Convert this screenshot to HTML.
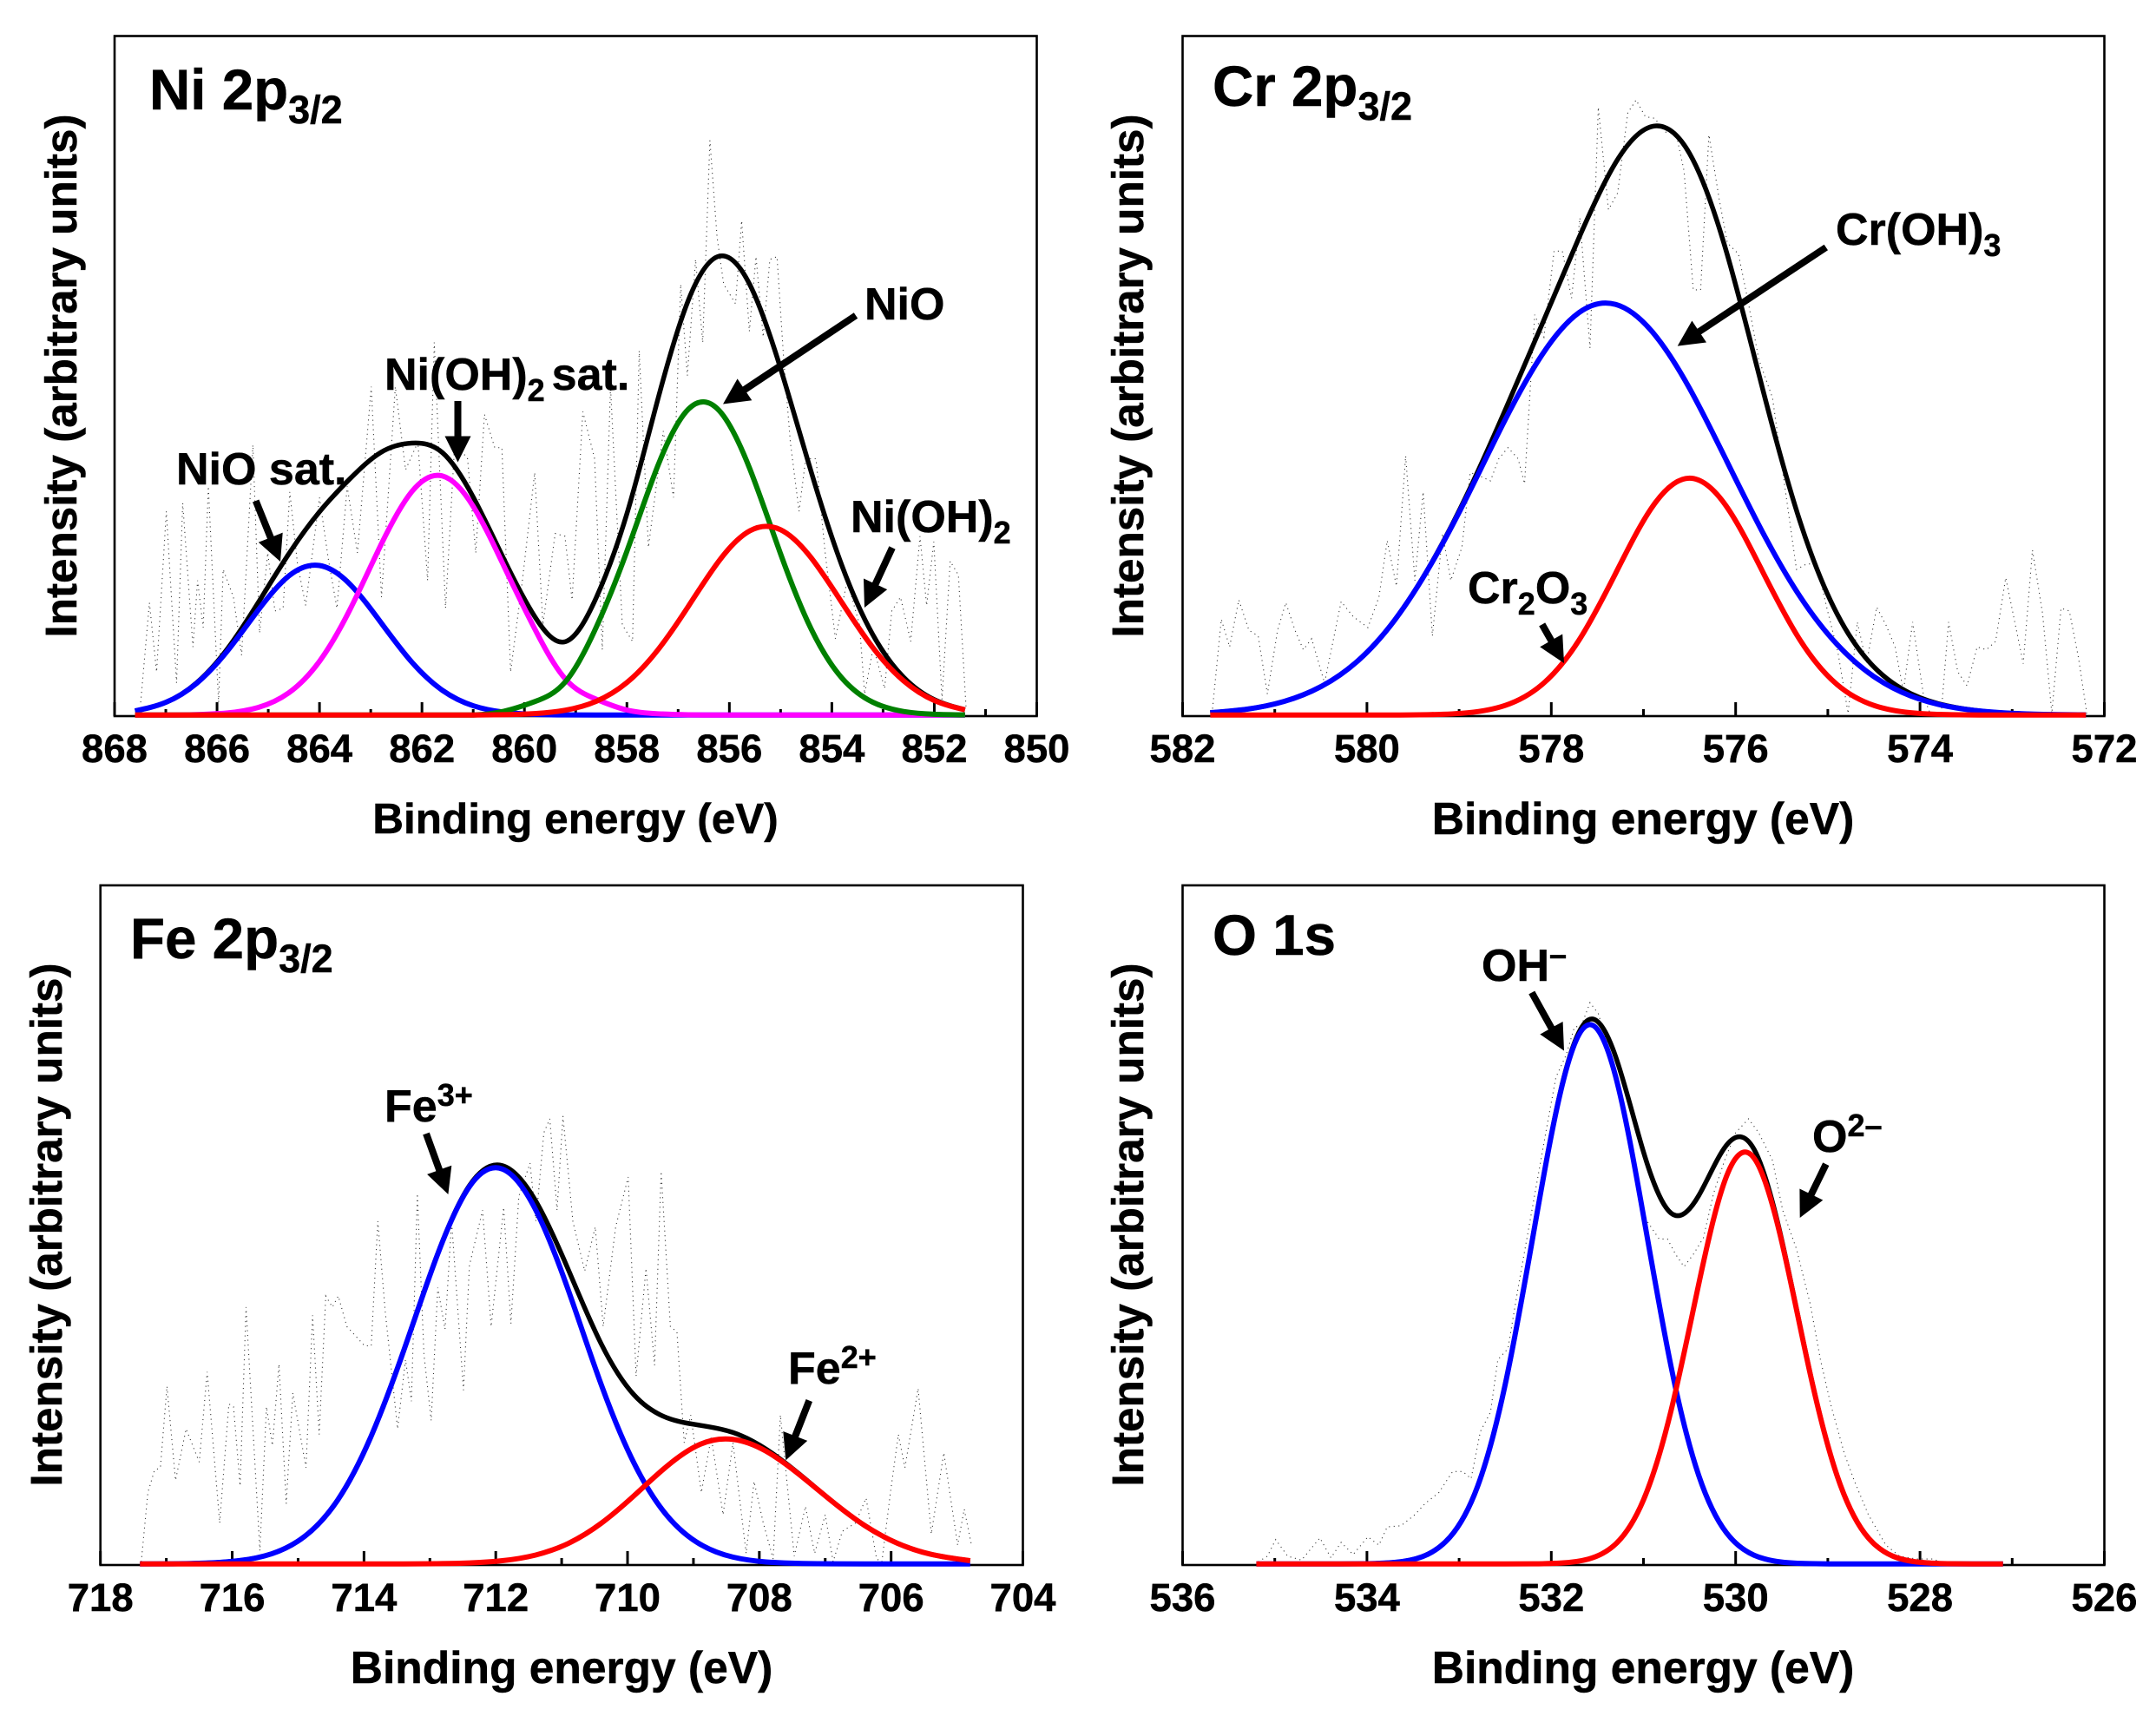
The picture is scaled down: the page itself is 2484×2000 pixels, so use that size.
<!DOCTYPE html>
<html lang="en">
<head>
<meta charset="utf-8">
<title>XPS spectra: Ni 2p3/2, Cr 2p3/2, Fe 2p3/2, O 1s</title>
<style>
  html, body { margin: 0; padding: 0; background: #fff; }
  svg { display: block; }
  text { font-family: "Liberation Sans", Arial, sans-serif; font-weight: 700; fill: #000; stroke: #000; stroke-width: 0.5px; }
  .tick-label { font-size: 45.5px; text-anchor: middle; }
  .x-title { font-size: 51.5px; text-anchor: middle; }
  .x-title-narrow { font-size: 49.5px; text-anchor: middle; }
  .y-title { font-size: 51.2px; text-anchor: middle; }
  .panel-title { font-size: 65.5px; }
  .note { font-size: 52px; }
</style>
</head>
<body>
<svg id="chart" xmlns="http://www.w3.org/2000/svg" width="2484" height="2000" viewBox="0 0 2484 2000">
  <rect x="0" y="0" width="2484" height="2000" fill="#fff" stroke="none"/>
  <g id="marks"></g>

  <text class="panel-title" x="172" y="126">Ni 2p<tspan dy="16" font-size="45">3/2</tspan></text>
  <text class="panel-title" x="1397" y="122">Cr 2p<tspan dy="16" font-size="45">3/2</tspan></text>
  <text class="panel-title" x="150" y="1104">Fe 2p<tspan dy="16" font-size="45">3/2</tspan></text>
  <text class="panel-title" x="1397" y="1100">O 1s</text>

  <text class="note" x="203" y="558">NiO sat.</text>
  <text class="note" x="443" y="449">Ni(OH)<tspan dy="13" font-size="36">2</tspan><tspan dy="-13" dx="8">sat.</tspan></text>
  <text class="note" x="996" y="368">NiO</text>
  <text class="note" x="980" y="613">Ni(OH)<tspan dy="13" font-size="36">2</tspan></text>
  <text class="note" x="2115" y="282">Cr(OH)<tspan dy="13" font-size="36">3</tspan></text>
  <text class="note" x="1691" y="695">Cr<tspan dy="13" font-size="36">2</tspan><tspan dy="-13">O</tspan><tspan dy="13" font-size="36">3</tspan></text>
  <text class="note" x="443" y="1292">Fe<tspan dy="-18" font-size="36">3+</tspan></text>
  <text class="note" x="908" y="1594">Fe<tspan dy="-18" font-size="36">2+</tspan></text>
  <text class="note" x="1707" y="1130">OH<tspan dy="-18" font-size="36">–</tspan></text>
  <text class="note" x="2088" y="1327">O<tspan dy="-18" font-size="36">2–</tspan></text>

  <text class="x-title-narrow" x="663" y="960">Binding energy (eV)</text>
  <text class="x-title" x="1893" y="961">Binding energy (eV)</text>
  <text class="x-title" x="647" y="1939">Binding energy (eV)</text>
  <text class="x-title" x="1893" y="1939">Binding energy (eV)</text>

  <text class="y-title" transform="translate(88 433) rotate(-90)">Intensity (arbitrary units)</text>
  <text class="y-title" transform="translate(1317 433) rotate(-90)">Intensity (arbitrary units)</text>
  <text class="y-title" transform="translate(71 1411) rotate(-90)">Intensity (arbitrary units)</text>
  <text class="y-title" transform="translate(1317 1411) rotate(-90)">Intensity (arbitrary units)</text>
</svg>

<script>
/* ---------- Ni 2p3/2 ---------- */
const niTicks = [868, 866, 864, 862, 860, 858, 856, 854, 852, 850];
const niEnergy = [867.6,867.0,866.4,865.8,865.2,864.6,864.0,863.4,862.8,862.2,861.6,861.0,860.4,859.8,859.2,858.6,858.0,857.4,856.8,856.2,855.6,855.0,854.4,853.8,853.2,852.6,852.0,851.4];
const niEnvelope = [0.61,1.87,4.73,9.72,16.5,23.7,29.9,34.8,38.65,40.0,38.6,32.07,22.93,14.5,10.8,17.25,29.62,46.33,61.04,67.5,63.3,50.96,35.7,21.92,11.82,5.57,2.27,0.79];
const niNioSat = [0.61,1.87,4.66,9.41,15.4,20.46,22.0,19.2,13.6,7.8,3.63,1.37,0.42,0.1,0.02,0,0,0,0,0,0,0,0,0,0,0,0,0];
const niHydroxideSat = [0,0,0.07,0.31,1.11,3.27,7.91,15.6,25.05,32.85,35.17,30.7,21.9,12.7,5.3,2.33,0.74,0.19,0.04,0,0,0,0,0,0,0,0,0];
const niNio = [0,0,0,0,0,0,0,0,0,0,0,0,0.56,1.97,4.9,12.9,24.1,36.6,45.0,44.8,36.2,23.7,12.6,5.42,1.89,0.53,0.12,0.02];
const niHydroxide = [0,0,0,0,0,0,0,0,0,0,0,0,0.05,0.21,0.72,2.02,4.78,9.54,16.0,22.7,27.1,27.26,23.1,16.5,9.93,5.04,2.15,0.77];
const niRawEnergy = [867.49,867.32,867.18,866.99,866.79,866.67,866.47,866.38,866.27,866.17,865.97,865.88,865.68,865.52,865.30,865.17,865.01,864.87,864.71,864.58,864.43,864.27,864.0,863.83,863.66,863.46,863.26,862.99,862.79,862.52,862.32,862.08,861.89,861.76,861.54,861.36,861.11,860.95,860.78,860.58,860.44,860.27,860.04,859.8,859.64,859.4,859.21,859.07,858.86,858.63,858.48,858.32,858.09,857.89,857.76,857.58,857.29,857.09,856.95,856.82,856.66,856.52,856.38,856.24,856.11,855.88,855.76,855.61,855.48,855.34,855.21,855.07,854.94,854.81,854.64,854.51,854.31,854.13,853.93,853.7,853.46,853.36,853.19,852.97,852.83,852.66,852.46,852.28,852.15,852.01,851.85,851.69,851.53,851.38];
const niRawCounts = [23,203,78,368,58,383,123,243,158,413,23,263,213,108,488,148,293,188,193,403,273,198,393,283,193,413,293,593,213,593,443,493,243,673,193,493,463,293,543,483,483,78,243,438,163,328,323,208,548,463,118,593,163,133,658,303,513,393,778,613,823,673,1038,863,778,743,893,693,828,683,823,828,643,493,368,463,463,293,138,243,163,38,123,48,188,213,133,323,198,313,28,278,253,13];

/* ---------- Cr 2p3/2 ---------- */
const crTicks = [582, 580, 578, 576, 574, 572];
const crEnergy = [581.7,581.3,580.9,580.5,580.1,579.7,579.3,578.9,578.5,578.1,577.7,577.3,576.9,576.5,576.1,575.7,575.3,574.9,574.5,574.1,573.7,573.3,572.9,572.5,572.2];
const crEnvelope = [0.35,0.87,2.0,4.18,7.96,13.96,22.37,32.85,44.87,57.49,70.2,81.3,86.6,82.6,68.15,47.6,28.4,14.89,7.08,3.16,1.35,0.54,0.2,0.07,0.03];
const crHydroxide = [0.35,0.87,2.0,4.18,7.96,13.95,22.3,32.5,43.45,53.0,59.2,60.4,56.3,48.05,37.45,26.7,17.4,10.4,5.66,2.81,1.28,0.53,0.2,0.07,0.03];
const crOxide = [0,0,0,0,0,0.01,0.07,0.35,1.42,4.49,11.0,20.9,30.7,34.85,30.7,20.9,11.0,4.49,1.42,0.35,0.07,0.01,0,0,0];
const crRawEnergy = [581.68,581.58,581.49,581.39,581.28,581.18,581.08,580.97,580.88,580.78,580.69,580.60,580.46,580.28,580.15,579.99,579.87,579.78,579.68,579.58,579.48,579.39,579.29,579.18,579.09,578.97,578.88,578.79,578.66,578.57,578.47,578.36,578.29,578.18,578.08,577.97,577.88,577.78,577.69,577.58,577.49,577.38,577.28,577.17,577.08,576.98,576.88,576.76,576.65,576.56,576.46,576.38,576.29,576.18,576.09,575.97,575.86,575.75,575.60,575.45,575.34,575.23,575.12,575.01,574.89,574.78,574.68,574.58,574.47,574.37,574.27,574.18,574.08,573.96,573.89,573.77,573.69,573.59,573.49,573.38,573.28,573.18,573.07,572.88,572.78,572.67,572.57,572.47,572.38,572.28,572.19];
const crRawCounts = [3,173,123,208,153,143,38,153,203,153,118,138,58,205,178,158,213,315,233,468,243,403,143,328,243,303,438,433,423,463,483,463,418,723,683,838,838,753,898,663,1098,913,943,1088,1111,1081,1078,1053,1053,983,768,768,1048,933,853,833,743,643,573,393,263,273,273,193,113,3,168,93,195,163,123,43,168,33,3,3,168,78,53,123,118,133,248,93,298,183,3,193,188,103,3];

/* ---------- Fe 2p3/2 ---------- */
const feTicks = [718, 716, 714, 712, 710, 708, 706, 704];
const feEnergy = [717.4,716.9,716.4,715.9,715.4,714.9,714.4,713.9,713.4,712.9,712.4,711.9,711.4,710.9,710.4,709.9,709.4,708.9,708.4,707.9,707.4,706.9,706.4,705.9,705.4,704.8];
const feEnvelope = [0.01,0.03,0.13,0.48,1.5,4.06,9.39,18.6,31.3,45.14,55.65,58.6,53.5,43.32,32.38,24.85,21.5,20.4,19.34,16.9,13.28,9.26,5.65,3.03,1.43,0.48];
const feFe3 = [0,0.03,0.13,0.48,1.5,4.06,9.39,18.6,31.3,45.1,55.5,58.1,52.2,40.3,26.4,14.8,7.1,2.91,1.01,0.3,0.08,0.02,0,0,0,0];
const feFe2 = [0,0,0,0,0,0,0,0,0.01,0.04,0.15,0.48,1.3,3.02,5.98,10.05,14.4,17.6,18.33,16.6,13.2,9.24,5.65,3.03,1.43,0.48];
const feRawEnergy = [717.38,717.28,717.18,717.09,716.99,716.86,716.70,716.50,716.38,716.19,716.05,715.98,715.88,715.79,715.58,715.48,715.39,715.29,715.18,715.08,714.88,714.78,714.68,714.58,714.48,714.39,714.26,713.99,713.89,713.79,713.68,713.49,713.37,713.28,713.19,713.09,712.98,712.88,712.77,712.67,712.49,712.40,712.20,712.07,711.88,711.77,711.65,711.48,711.39,711.27,711.18,711.07,710.98,710.83,710.65,710.49,710.37,710.18,709.99,709.87,709.72,709.59,709.49,709.35,709.25,709.14,709.04,708.88,708.73,708.55,708.40,708.20,708.08,707.94,707.79,707.68,707.47,707.30,707.16,707.00,706.88,706.74,706.54,706.38,706.22,706.14,706.01,705.89,705.79,705.59,705.39,705.20,704.99,704.89,704.78];
const feRawCounts = [4,129,169,174,321,151,244,184,347,74,289,284,141,464,24,284,214,361,109,309,174,449,234,484,464,484,429,394,394,619,459,244,369,294,669,379,259,499,424,619,314,539,639,429,644,434,664,724,619,779,804,639,809,619,529,609,429,609,699,339,534,359,709,429,419,219,269,129,229,89,219,19,149,74,9,269,14,104,19,89,4,59,74,119,9,4,129,234,174,317,54,201,34,99,34];

/* ---------- O 1s ---------- */
const oTicks = [536, 534, 532, 530, 528, 526];
const oEnergy = [535.2,534.9,534.6,534.3,534.0,533.7,533.4,533.1,532.8,532.5,532.2,531.9,531.6,531.3,531.0,530.7,530.4,530.1,529.8,529.5,529.2,528.9,528.6,528.3,528.0,527.7,527.4,527.1];
const oEnvelope = [0,0,0,0,0.04,0.23,1.07,3.94,11.4,26.4,48.12,69.53,80.01,74.56,60.62,51.6,54.2,61.59,60.99,47.68,28.55,13.0,4.5,1.18,0.24,0.04,0,0];
const oHydroxyl = [0,0,0,0,0.04,0.23,1.07,3.94,11.4,26.4,48.1,69.4,79.3,71.6,51.2,29.0,13.0,4.59,1.29,0.28,0.05,0,0,0,0,0,0,0];
const oOxide = [0,0,0,0,0,0,0,0,0,0,0.02,0.13,0.71,2.96,9.42,22.6,41.2,57.0,59.7,47.4,28.5,13.0,4.5,1.18,0.24,0.04,0,0];
const oRawEnergy = [535.18,535.08,534.99,534.86,534.71,534.51,534.39,534.28,534.15,533.99,533.87,533.78,533.63,533.48,533.37,533.22,533.07,532.96,532.87,532.77,532.66,532.58,532.47,532.36,532.21,532.06,531.95,531.84,531.75,531.67,531.58,531.49,531.39,531.28,531.17,531.06,530.96,530.83,530.74,530.65,530.56,530.46,530.35,530.24,530.12,530.0,529.86,529.75,529.60,529.49,529.34,529.19,529.08,528.97,528.82,528.71,528.56,528.37,528.22,528.04,527.86,527.74];
const oRawCounts = [4,14,44,14,7,47,11,39,17,49,34,67,69,89,109,129,167,167,154,239,274,369,389,499,639,779,879,919,969,974,1014,994,939,869,779,669,619,587,587,559,537,559,589,669,729,779,804,779,729,639,569,469,369,289,199,149,89,34,14,9,9,1];

const svgNS = 'http://www.w3.org/2000/svg';
const root = document.getElementById('marks');

function add(tag, attrs, parent) {
  const el = document.createElementNS(svgNS, tag);
  for (const k in attrs) el.setAttribute(k, attrs[k]);
  parent.appendChild(el);
  return el;
}

/* Natural cubic spline through the plotted samples, written as Bezier segments. */
function smoothPath(xs, ys, floor) {
  const n = xs.length;
  const M = new Array(n).fill(0);
  const c = new Array(n).fill(0);
  const r = new Array(n).fill(0);
  for (let i = 1; i < n - 1; i++) {
    const h0 = xs[i] - xs[i - 1], h1 = xs[i + 1] - xs[i];
    const b = 2 * (h0 + h1) - h0 * c[i - 1];
    c[i] = h1 / b;
    r[i] = (6 * ((ys[i + 1] - ys[i]) / h1 - (ys[i] - ys[i - 1]) / h0) - h0 * r[i - 1]) / b;
  }
  for (let i = n - 2; i > 0; i--) M[i] = r[i] - c[i] * M[i + 1];
  let d = 'M' + xs[0].toFixed(2) + ' ' + ys[0].toFixed(2);
  for (let i = 0; i < n - 1; i++) {
    const h = xs[i + 1] - xs[i];
    const s = (ys[i + 1] - ys[i]) / h;
    const d0 = s - h * (2 * M[i] + M[i + 1]) / 6;
    const d1 = s + h * (M[i] + 2 * M[i + 1]) / 6;
    const c1y = Math.min(floor, ys[i] + d0 * h / 3);
    const c2y = Math.min(floor, ys[i + 1] - d1 * h / 3);
    d += 'C' + (xs[i] + h / 3).toFixed(2) + ' ' + c1y.toFixed(2) + ' ' + (xs[i + 1] - h / 3).toFixed(2) + ' ' + c2y.toFixed(2) + ' ' + xs[i + 1].toFixed(2) + ' ' + ys[i + 1].toFixed(2);
  }
  return d;
}

function drawPanel(p) {
  const g = add('g', {}, root);
  
  

  const first = p.ticks[0], last = p.ticks[p.ticks.length - 1];
  const xAxis = v => p.left + (first - v) / (first - last) * (p.right - p.left);
  const baseline = p.bottom - 1.2;
  const plotHeight = 783.2;
  const yFit = v => baseline - v / 100 * plotHeight;
  const yRaw = c => baseline - c / 1228 * plotHeight;

  const frame = add('rect', { x: p.left, y: p.top, width: p.right - p.left, height: p.bottom - p.top, fill: 'none', stroke: '#000', 'stroke-width': 2.6 }, g);
  
  

  const rawLine = add('polyline', {
    points: p.rawEnergy.map((e, i) => xAxis(e).toFixed(2) + ',' + yRaw(p.rawCounts[i]).toFixed(2)).join(' '),
    fill: 'none', stroke: '#333', 'stroke-width': 1.1, 'stroke-dasharray': '1.1 4.4'
  }, g);
  
  

  p.ticks.forEach((t, i) => {
    const major = add('line', { x1: xAxis(t), x2: xAxis(t), y1: p.bottom, y2: p.bottom - 16, stroke: '#000', 'stroke-width': 3 }, g);
    
    

    const label = add('text', { class: 'tick-label', x: xAxis(t), y: p.bottom + 53 }, g);
    
    
    label.textContent = t;

    if (i < p.ticks.length - 1) {
      const mid = (t + p.ticks[i + 1]) / 2;
      const minor = add('line', { x1: xAxis(mid), x2: xAxis(mid), y1: p.bottom, y2: p.bottom - 8, stroke: '#000', 'stroke-width': 3 }, g);
      
      
    }
  });

  p.curves.forEach(c => {
    const xs = p.energy.map(xAxis);
    const ys = c.values.map(yFit);
    const path = add('path', { d: smoothPath(xs, ys, baseline), fill: 'none', stroke: c.color, 'stroke-width': c.width, 'stroke-linejoin': 'round' }, g);
    
    
  });
}

const panels = [
  { key: 'ni', left: 132, right: 1194.5, top: 41.5, bottom: 825, ticks: niTicks, energy: niEnergy, rawEnergy: niRawEnergy, rawCounts: niRawCounts,
    curves: [
      { name: 'envelope', values: niEnvelope, color: '#000', width: 5.5 },
      { name: 'nio-satellite', values: niNioSat, color: '#00f', width: 6 },
      { name: 'nioh2-satellite', values: niHydroxideSat, color: '#f0f', width: 6 },
      { name: 'nio', values: niNio, color: '#008000', width: 6 },
      { name: 'nioh2', values: niHydroxide, color: '#f00', width: 6 }
    ] },
  { key: 'cr', left: 1362.5, right: 2424.5, top: 41.5, bottom: 825, ticks: crTicks, energy: crEnergy, rawEnergy: crRawEnergy, rawCounts: crRawCounts,
    curves: [
      { name: 'envelope', values: crEnvelope, color: '#000', width: 5.5 },
      { name: 'croh3', values: crHydroxide, color: '#00f', width: 6 },
      { name: 'cr2o3', values: crOxide, color: '#f00', width: 6 }
    ] },
  { key: 'fe', left: 115.7, right: 1178.5, top: 1020, bottom: 1803, ticks: feTicks, energy: feEnergy, rawEnergy: feRawEnergy, rawCounts: feRawCounts,
    curves: [
      { name: 'envelope', values: feEnvelope, color: '#000', width: 5.5 },
      { name: 'fe3', values: feFe3, color: '#00f', width: 6 },
      { name: 'fe2', values: feFe2, color: '#f00', width: 6 }
    ] },
  { key: 'o', left: 1362.5, right: 2424.5, top: 1020, bottom: 1803, ticks: oTicks, energy: oEnergy, rawEnergy: oRawEnergy, rawCounts: oRawCounts,
    curves: [
      { name: 'envelope', values: oEnvelope, color: '#000', width: 5.5 },
      { name: 'hydroxyl', values: oHydroxyl, color: '#00f', width: 6 },
      { name: 'oxide', values: oOxide, color: '#f00', width: 6 }
    ] }
];
panels.forEach(drawPanel);

function drawArrow(name, x1, y1, x2, y2) {
  const len = Math.hypot(x2 - x1, y2 - y1);
  const ux = (x2 - x1) / len, uy = (y2 - y1) / len;
  const nx = -uy, ny = ux;
  const headLen = 30, headHalf = 15, shaftHalf = 4;
  const bx = x2 - ux * headLen, by = y2 - uy * headLen;
  const pts = [
    [x1 + nx * shaftHalf, y1 + ny * shaftHalf],
    [bx + nx * shaftHalf, by + ny * shaftHalf],
    [bx + nx * headHalf, by + ny * headHalf],
    [x2, y2],
    [bx - nx * headHalf, by - ny * headHalf],
    [bx - nx * shaftHalf, by - ny * shaftHalf],
    [x1 - nx * shaftHalf, y1 - ny * shaftHalf]
  ];
  const el = add('polygon', { points: pts.map(q => q[0].toFixed(1) + ',' + q[1].toFixed(1)).join(' '), fill: '#000' }, root);
  
  
}

drawArrow('nio-sat-arrow', 294.7, 577, 323, 647);
drawArrow('nioh2-sat-arrow', 527.5, 462, 527.5, 532.5);
drawArrow('nio-arrow', 986, 363.5, 833, 465.5);
drawArrow('nioh2-arrow', 1028, 631, 996, 700);
drawArrow('croh3-arrow', 2103.8, 285, 1932.7, 398.6);
drawArrow('cr2o3-arrow', 1776.7, 719.4, 1802, 764);
drawArrow('fe3-arrow', 491, 1306, 516.4, 1376);
drawArrow('fe2-arrow', 932.3, 1613.5, 905.3, 1682.4);
drawArrow('oh-arrow', 1764.8, 1143.5, 1802, 1210.5);
drawArrow('o2-arrow', 2103.8, 1341.2, 2073.7, 1403);
</script>
</body>
</html>
